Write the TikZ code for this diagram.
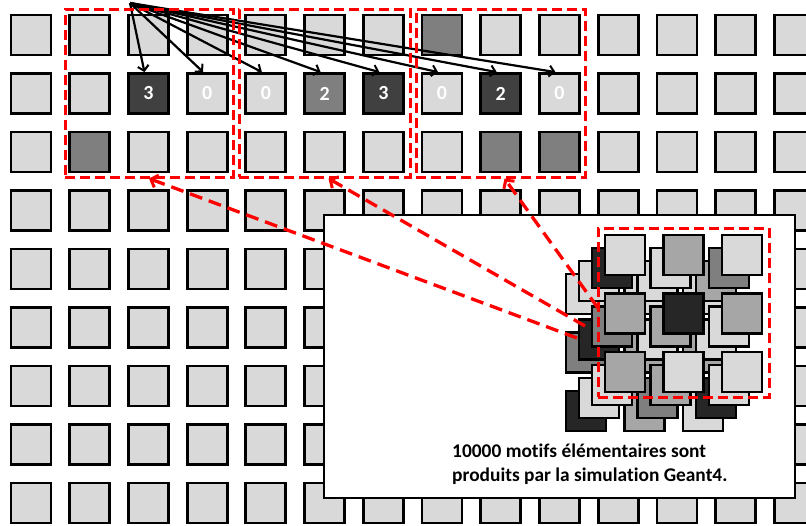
\documentclass[tikz,border=0pt]{standalone}
\usepackage{fontspec}
\setmainfont{Carlito}[Ligatures={NoCommon}]
\usetikzlibrary{arrows.meta,calc}
\definecolor{lightg}{HTML}{D9D9D9}
\definecolor{midg}{HTML}{7F7F7F}
\definecolor{darkg}{HTML}{404040}
\definecolor{stL}{HTML}{D9D9D9}
\definecolor{stM}{HTML}{A6A6A6}
\definecolor{stG}{HTML}{7F7F7F}
\definecolor{stD}{HTML}{262626}
\definecolor{redd}{HTML}{FF0000}
\def\setcell#1#2#3#4{\expandafter\def\csname cf#1-#2\endcsname{#3}\expandafter\def\csname ct#1-#2\endcsname{#4}}
\setcell{1}{8}{midg}{}
\setcell{2}{3}{darkg}{3}
\setcell{2}{4}{lightg}{0}
\setcell{2}{5}{lightg}{0}
\setcell{2}{6}{midg}{2}
\setcell{2}{7}{darkg}{3}
\setcell{2}{8}{lightg}{0}
\setcell{2}{9}{darkg}{2}
\setcell{2}{10}{lightg}{0}
\setcell{3}{2}{midg}{}
\setcell{3}{9}{midg}{}
\setcell{3}{10}{midg}{}
\begin{document}
\begin{tikzpicture}[x=1pt,y=-1pt,
  sq/.style={draw=black, line width=2.8pt, minimum size=40pt, inner sep=0pt, fill=lightg,
    font=\bfseries\fontsize{20}{20}\selectfont, text=white},
  stk/.style={draw=black, line width=2.6pt, minimum size=40pt, inner sep=0pt},
  redbox/.style={draw=redd, line width=3pt, dash pattern=on 10pt off 5pt, inner sep=0pt},
  redcon/.style={draw=redd, line width=3.3pt, dash pattern=on 13pt off 7pt,
    -{Straight Barb[length=6pt,width=13pt,line width=3pt]}},
  blackarr/.style={draw=black, line width=2.2pt, -{Straight Barb[length=5pt,width=11pt,line width=2pt]}},
  whitebox/.style={draw=black, fill=white, line width=2.8pt, inner sep=0pt},
  caption/.style={font=\bfseries\fontsize{19.4}{24}\selectfont, align=left, inner sep=0pt, text=black}
]
\useasboundingbox (0,0) rectangle (806,525);
\clip (0,0) rectangle (806,525);
% grid
\foreach \r in {1,...,9} {
  \foreach \c in {1,...,14} {
    \ifcsname cf\r-\c\endcsname
      \edef\fc{\csname cf\r-\c\endcsname}\edef\tx{\csname ct\r-\c\endcsname}
    \else
      \def\fc{lightg}\def\tx{}
    \fi
    \node[sq, fill=\fc] (s-\r-\c) at ({31+58.72*(\c-1)}, {35+58.5*(\r-1)}) {\tx};
  }
}
% black arrows
\coordinate (src) at (130,3);
\foreach \c in {3,...,10} {
  \draw[blackarr] (src) -- ($(s-2-\c.north)+(-4,0)$);
}
% red dashed boxes
\node[redbox, minimum width=168pt, minimum height=168pt] (b1) at (149,93) {};
\node[redbox, minimum width=171pt, minimum height=168pt] (b2) at (324.5,93) {};
\node[redbox, minimum width=169pt, minimum height=168pt] (b3) at (500.5,93) {};
% white box
\node[whitebox, minimum width=471pt, minimum height=283pt] (wb) at (559.5,356.5) {};
% stack of elementary patterns
\foreach \k/\clist in {3/{L,L,L,G,M,M,D,M,L},2/{L,L,M,D,L,L,L,G,D},1/{D,L,G,G,M,L,L,M,L},0/{L,M,L,M,D,M,M,L,L}} {
  \foreach \col [count=\n from 0] in \clist {
    \pgfmathtruncatemacro\rr{div(\n,3)}
    \pgfmathtruncatemacro\cc{mod(\n,3)}
    \node[stk, fill=st\col] (l-\k-\rr-\cc) at ({625+58.5*\cc-13*\k}, {255+58.5*\rr+13*\k}) {};
  }
}
\node[redbox, minimum width=171pt, minimum height=169pt] (ib) at (683.5,312.5) {};
% caption
\node[caption, anchor=north west] (cap) at (452,444) {10000 motifs élémentaires sont\\produits par la simulation Geant4.};
% red connectors
\coordinate (e1) at (577,338);
\coordinate (e2) at (585,326);
\coordinate (e3) at (598,308);
\draw[redcon] (e1) -- (b1.south);
\draw[redcon] (e2) -- ($(b2.south)+(4,0)$);
\draw[redcon] (e3) -- ($(b3.south)+(4,0)$);
\end{tikzpicture}
\end{document}
